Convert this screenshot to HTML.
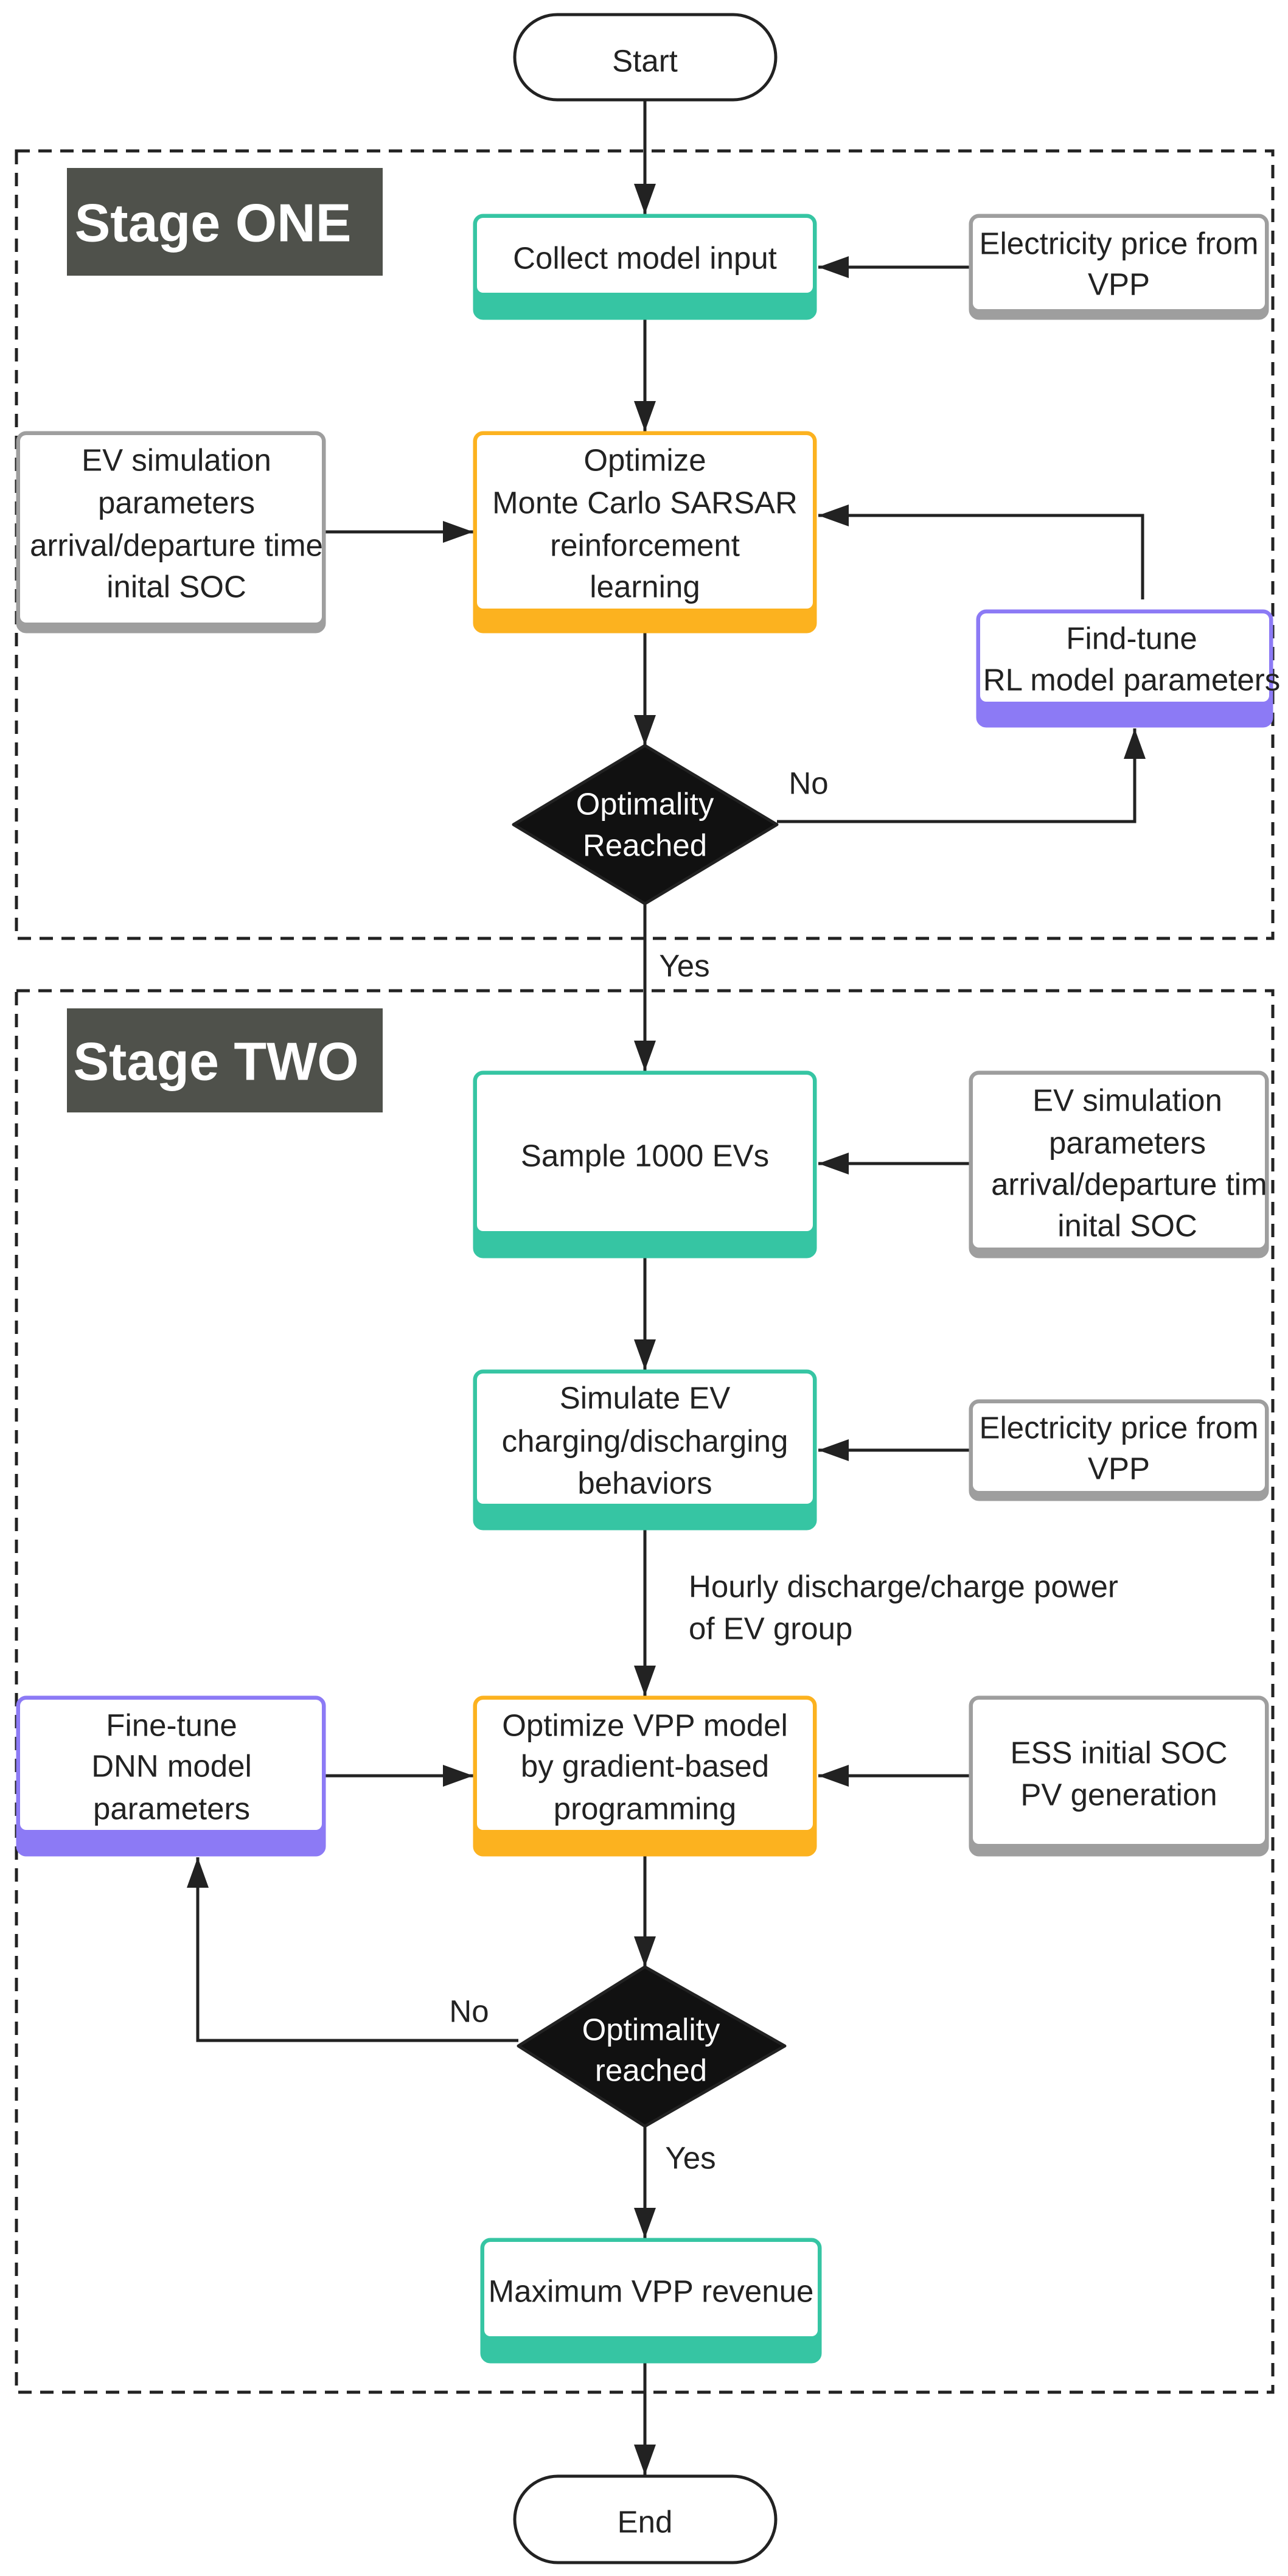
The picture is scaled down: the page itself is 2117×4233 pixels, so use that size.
<!DOCTYPE html>
<html><head><meta charset="utf-8"><style>
html,body{margin:0;padding:0;background:#fff}
svg{display:block}
text{font-family:"Liberation Sans",sans-serif;font-size:51px;fill:#222;text-anchor:middle;dominant-baseline:central}
</style></head><body>
<svg width="2117" height="4233" viewBox="0 0 2117 4233" xmlns="http://www.w3.org/2000/svg">
<defs>
<marker id="ah" markerWidth="50" markerHeight="36" refX="50" refY="18" orient="auto" markerUnits="userSpaceOnUse">
<path d="M0,0 L50,18 L0,36 Z" fill="#222"/>
</marker>
<clipPath id="c1"><rect x="30" y="709" width="502" height="331"/></clipPath>
<clipPath id="c2"><rect x="1596" y="1760" width="486" height="307"/></clipPath>
</defs>

<rect x="27" y="248" width="2065" height="1294" fill="none" stroke="#222" stroke-width="5" stroke-dasharray="22,14"/>
<rect x="27" y="1628" width="2065" height="2303" fill="none" stroke="#222" stroke-width="5" stroke-dasharray="22,14"/>

<rect x="110" y="276" width="519" height="177" fill="#4F514B"/>
<text x="350" y="366" style="font-size:88px;font-weight:bold;fill:#fff">Stage ONE</text>
<rect x="110" y="1657" width="519" height="171" fill="#4F514B"/>
<text x="355" y="1744" style="font-size:88px;font-weight:bold;fill:#fff">Stage TWO</text>

<g stroke="#222" stroke-width="5" fill="none">
<line x1="1060" y1="166" x2="1060" y2="352" marker-end="url(#ah)"/>
<line x1="1060" y1="525" x2="1060" y2="709" marker-end="url(#ah)"/>
<line x1="1593" y1="439" x2="1345" y2="439" marker-end="url(#ah)"/>
<line x1="535" y1="874" x2="778" y2="874" marker-end="url(#ah)"/>
<line x1="1060" y1="1040" x2="1060" y2="1225" marker-end="url(#ah)"/>
<polyline points="1277,1350 1865,1350 1865,1197" marker-end="url(#ah)"/>
<polyline points="1878,985 1878,847 1345,847" marker-end="url(#ah)"/>
<line x1="1060" y1="1485" x2="1060" y2="1760" marker-end="url(#ah)"/>
<line x1="1593" y1="1912" x2="1345" y2="1912" marker-end="url(#ah)"/>
<line x1="1060" y1="2067" x2="1060" y2="2251" marker-end="url(#ah)"/>
<line x1="1593" y1="2383" x2="1345" y2="2383" marker-end="url(#ah)"/>
<line x1="1060" y1="2514" x2="1060" y2="2787" marker-end="url(#ah)"/>
<line x1="535" y1="2918" x2="778" y2="2918" marker-end="url(#ah)"/>
<line x1="1593" y1="2918" x2="1345" y2="2918" marker-end="url(#ah)"/>
<line x1="1060" y1="3050" x2="1060" y2="3232" marker-end="url(#ah)"/>
<polyline points="852,3353 325,3353 325,3052" marker-end="url(#ah)"/>
<line x1="1060" y1="3494" x2="1060" y2="3678" marker-end="url(#ah)"/>
<line x1="1060" y1="3883" x2="1060" y2="4067" marker-end="url(#ah)"/>
</g>

<rect x="846" y="24" width="429" height="140" rx="70" fill="#fff" stroke="#222" stroke-width="5"/>
<text x="1060" y="100">Start</text>
<rect x="846" y="4069" width="429" height="142" rx="71" fill="#fff" stroke="#222" stroke-width="5"/>
<text x="1060" y="4144">End</text>

<rect x="780" y="354" width="560" height="169" rx="14" fill="#36C5A3" stroke="#36C5A3" stroke-width="5"/>
<rect x="784" y="358" width="552" height="123" rx="10" fill="#fff"/>
<text x="1060" y="424">Collect model input</text>

<rect x="1595" y="354" width="488" height="169" rx="14" fill="#9E9E9E" stroke="#9E9E9E" stroke-width="5"/>
<rect x="1599" y="358" width="480" height="150" rx="10" fill="#fff"/>
<text x="1839" y="400">Electricity price from</text>
<text x="1839" y="467">VPP</text>

<rect x="780" y="711" width="560" height="327" rx="14" fill="#FCB21F" stroke="#FCB21F" stroke-width="5"/>
<rect x="784" y="715" width="552" height="285" rx="10" fill="#fff"/>
<text x="1060" y="756">Optimize</text>
<text x="1060" y="826">Monte Carlo SARSAR</text>
<text x="1060" y="896">reinforcement</text>
<text x="1060" y="964">learning</text>

<rect x="29" y="711" width="504" height="327" rx="14" fill="#9E9E9E" stroke="#9E9E9E" stroke-width="5"/>
<rect x="33" y="715" width="496" height="308" rx="10" fill="#fff"/>
<g clip-path="url(#c1)">
<text x="290" y="756">EV simulation</text>
<text x="290" y="826">parameters</text>
<text x="290" y="896">arrival/departure time</text>
<text x="290" y="964">inital SOC</text>
</g>

<rect x="1607" y="1004" width="483" height="189" rx="14" fill="#8C7AF5" stroke="#8C7AF5" stroke-width="5"/>
<rect x="1611" y="1008" width="475" height="145" rx="10" fill="#fff"/>
<text x="1860" y="1049">Find-tune</text>
<text x="1860" y="1117">RL model parameters</text>

<polygon points="1060,1225 1277,1355 1060,1485 844,1355" fill="#111" stroke="#222" stroke-width="5" stroke-linejoin="round"/>
<text x="1060" y="1321" style="fill:#fff">Optimality</text>
<text x="1060" y="1389" style="fill:#fff">Reached</text>
<text x="1329" y="1287">No</text>
<text x="1125" y="1587">Yes</text>

<rect x="780" y="1762" width="560" height="303" rx="14" fill="#36C5A3" stroke="#36C5A3" stroke-width="5"/>
<rect x="784" y="1766" width="552" height="257" rx="10" fill="#fff"/>
<text x="1060" y="1899">Sample 1000 EVs</text>

<rect x="1595" y="1762" width="488" height="303" rx="14" fill="#9E9E9E" stroke="#9E9E9E" stroke-width="5"/>
<rect x="1599" y="1766" width="480" height="284" rx="10" fill="#fff"/>
<g clip-path="url(#c2)">
<text x="1853" y="1808">EV simulation</text>
<text x="1853" y="1878">parameters</text>
<text x="1870" y="1946">arrival/departure time</text>
<text x="1853" y="2014">inital SOC</text>
</g>

<rect x="780" y="2253" width="560" height="259" rx="14" fill="#36C5A3" stroke="#36C5A3" stroke-width="5"/>
<rect x="784" y="2257" width="552" height="214" rx="10" fill="#fff"/>
<text x="1060" y="2297">Simulate EV</text>
<text x="1060" y="2368">charging/discharging</text>
<text x="1060" y="2437">behaviors</text>

<rect x="1595" y="2302" width="488" height="162" rx="14" fill="#9E9E9E" stroke="#9E9E9E" stroke-width="5"/>
<rect x="1599" y="2306" width="480" height="144" rx="10" fill="#fff"/>
<text x="1839" y="2346">Electricity price from</text>
<text x="1839" y="2413">VPP</text>

<text x="1132" y="2607" style="text-anchor:start">Hourly discharge/charge power</text>
<text x="1132" y="2676" style="text-anchor:start">of EV group</text>

<rect x="780" y="2789" width="560" height="259" rx="14" fill="#FCB21F" stroke="#FCB21F" stroke-width="5"/>
<rect x="784" y="2793" width="552" height="214" rx="10" fill="#fff"/>
<text x="1060" y="2835">Optimize VPP model</text>
<text x="1060" y="2902">by gradient-based</text>
<text x="1060" y="2972">programming</text>

<rect x="29" y="2789" width="504" height="259" rx="14" fill="#8C7AF5" stroke="#8C7AF5" stroke-width="5"/>
<rect x="33" y="2793" width="496" height="214" rx="10" fill="#fff"/>
<text x="282" y="2835">Fine-tune</text>
<text x="282" y="2902">DNN model</text>
<text x="282" y="2972">parameters</text>

<rect x="1595" y="2789" width="488" height="259" rx="14" fill="#9E9E9E" stroke="#9E9E9E" stroke-width="5"/>
<rect x="1599" y="2793" width="480" height="237" rx="10" fill="#fff"/>
<text x="1839" y="2880">ESS initial SOC</text>
<text x="1839" y="2949">PV generation</text>

<polygon points="1060,3232 1290,3362 1060,3494 852,3362" fill="#111" stroke="#222" stroke-width="5" stroke-linejoin="round"/>
<text x="1070" y="3335" style="fill:#fff">Optimality</text>
<text x="1070" y="3402" style="fill:#fff">reached</text>
<text x="771" y="3305">No</text>
<text x="1135" y="3546">Yes</text>

<rect x="792" y="3680" width="556" height="201" rx="14" fill="#36C5A3" stroke="#36C5A3" stroke-width="5"/>
<rect x="796" y="3684" width="548" height="155" rx="10" fill="#fff"/>
<text x="1070" y="3765">Maximum VPP revenue</text>
</svg>
</body></html>
